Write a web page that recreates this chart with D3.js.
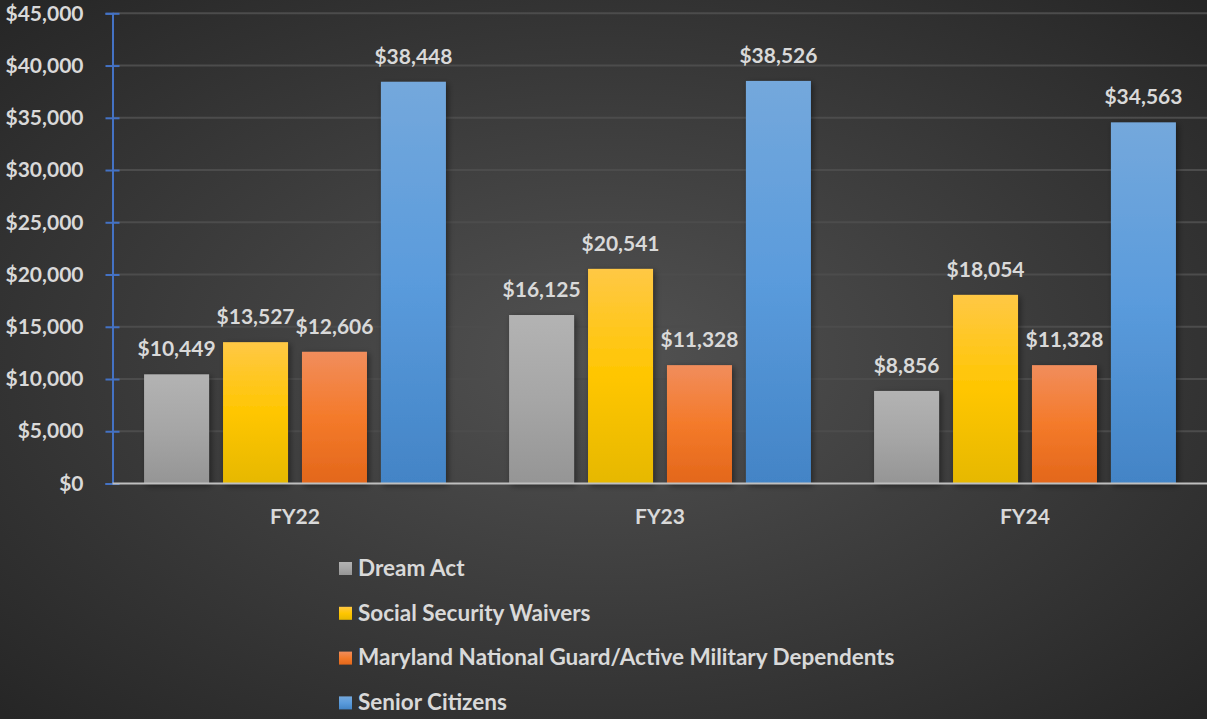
<!DOCTYPE html>
<html lang="en">
<head>
  <meta charset="UTF-8">
  <title>Waivers by Fiscal Year</title>
  <script src="https://d3js.org/d3.v7.min.js"></script>
  <style>
    html, body { margin: 0; padding: 0; background: #2b2b2b; }
    svg { display: block; font-family: Lato, "Open Sans", sans-serif; font-weight: bold; }
  </style>
</head>
<body>
  <div id="chart"></div>

  <script>
    // data
    const years = ["FY22", "FY23", "FY24"];
    const series = ["Dream Act", "Social Security Waivers", "Maryland National Guard/Active Military Dependents", "Senior Citizens"];
    const dreamAct = [10449, 16125, 8856];
    const socialSecurity = [13527, 20541, 18054];
    const nationalGuard = [12606, 11328, 11328];
    const seniors = [38448, 38526, 34563];
    const yTicks = [0, 5000, 10000, 15000, 20000, 25000, 30000, 35000, 40000, 45000];

    const values = [dreamAct, socialSecurity, nationalGuard, seniors];
    const rows = years.map((yr, i) => ({ year: yr, vals: series.map((s, j) => ({ key: s, value: values[j][i] })) }));

    const W = 1207, H = 719;
    const svg = d3.select("#chart").append("svg")
      .attr("width", W).attr("height", H);

    const defs = svg.append("defs");

    // background: soft radial glow
    const bg = defs.append("radialGradient").attr("id", "bg")
      .attr("cx", "50%").attr("cy", "50%").attr("r", "70%");
    bg.append("stop").attr("offset", "0%").attr("stop-color", "#525252");
    bg.append("stop").attr("offset", "100%").attr("stop-color", "#262626");
    svg.append("rect").attr("width", W).attr("height", H).attr("fill", "url(#bg)");

    // bar gradients (top -> bottom)
    const grads = [
      ["#b3b3b3", "#a6a6a6", "#959595"],
      ["#ffc845", "#ffc600", "#e6b800"],
      ["#f18d5c", "#f47a2a", "#e3671b"],
      ["#74a8dc", "#5a9bdc", "#4384c6"]
    ];
    grads.forEach((g, i) => {
      const lg = defs.append("linearGradient").attr("id", "g" + i)
        .attr("x1", 0).attr("y1", 0).attr("x2", 0).attr("y2", 1);
      lg.append("stop").attr("offset", "0%").attr("stop-color", g[0]);
      lg.append("stop").attr("offset", "50%").attr("stop-color", g[1]);
      lg.append("stop").attr("offset", "100%").attr("stop-color", g[2]);
    });

    const shadow = defs.append("filter").attr("id", "shadow")
      .attr("x", "-20%").attr("y", "-10%").attr("width", "150%").attr("height", "130%");
    shadow.append("feDropShadow").attr("dx", 2).attr("dy", 2).attr("stdDeviation", 3)
      .attr("flood-color", "#000").attr("flood-opacity", 0.45);

    const plotLeft = 112.5, plotRight = 1207.5, plotTop = 13.3, plotBottom = 483.5;

    const x0 = d3.scaleBand().domain(years).range([plotLeft, plotRight]).padding(0);
    const x1 = d3.scaleBand().domain(series).range([0, x0.bandwidth()])
      .paddingInner(0.177).paddingOuter(0.4);
    const y = d3.scaleLinear().domain([0, 45000]).range([plotBottom, plotTop]);
    const color = d3.scaleOrdinal().domain(series).range(series.map((s, i) => "url(#g" + i + ")"));

    // gridlines
    svg.append("g")
      .selectAll("line").data(yTicks.slice(1)).join("line")
      .attr("x1", plotLeft).attr("x2", W)
      .attr("y1", d => y(d)).attr("y2", d => y(d))
      .attr("stroke", "#4c4c4c").attr("stroke-width", 2);

    // y axis
    const yAxis = svg.append("g")
      .attr("transform", `translate(${plotLeft},0)`)
      .call(d3.axisLeft(y).tickValues(yTicks).tickSize(7).tickPadding(22)
        .tickFormat(d => "$" + d3.format(",")(d)));
    yAxis.select(".domain").attr("stroke", "#4472c4").attr("stroke-width", 2);
    yAxis.selectAll(".tick line").attr("stroke", "#4472c4").attr("stroke-width", 2).attr("x2", 7).attr("x1", -7);
    yAxis.selectAll(".tick text").attr("fill", "#d9d9d9").style("font-size", "21px")
      .style("font-family", "Lato, sans-serif").style("font-weight", "bold");

    // bars
    const groups = svg.append("g").selectAll("g").data(rows).join("g")
      .attr("transform", d => `translate(${x0(d.year)},0)`);

    groups.selectAll("rect").data(d => d.vals).join("rect")
      .attr("x", d => x1(d.key))
      .attr("width", x1.bandwidth())
      .attr("y", d => y(d.value))
      .attr("height", d => y(0) - y(d.value))
      .attr("fill", d => color(d.key))
      .attr("filter", "url(#shadow)");

    groups.selectAll("text").data(d => d.vals).join("text")
      .attr("x", d => x1(d.key) + x1.bandwidth() / 2)
      .attr("y", d => y(d.value) - 18)
      .attr("text-anchor", "middle")
      .attr("fill", "#d9d9d9")
      .style("font-size", "21px")
      .text(d => "$" + d3.format(",")(d.value));

    // x axis baseline
    svg.append("line")
      .attr("x1", plotLeft).attr("x2", W)
      .attr("y1", y(0)).attr("y2", y(0))
      .attr("stroke", "#bfbfbf").attr("stroke-width", 2);

    const xAxis = svg.append("g")
      .attr("transform", `translate(0,${y(0)})`)
      .call(d3.axisBottom(x0).tickSize(0).tickPadding(26));
    xAxis.select(".domain").remove();
    xAxis.selectAll("text").attr("fill", "#d9d9d9").style("font-size", "21px")
      .style("font-family", "Lato, sans-serif").style("font-weight", "bold");

    // legend
    const legend = svg.append("g").attr("transform", "translate(339,568)");
    const item = legend.selectAll("g").data(series).join("g")
      .attr("transform", (d, i) => `translate(0,${i * 44.8})`);
    item.append("rect")
      .attr("x", 0).attr("y", -6).attr("width", 13).attr("height", 13)
      .attr("fill", d => color(d));
    item.append("text")
      .attr("x", 19).attr("y", 0).attr("dy", "0.35em")
      .attr("fill", "#d9d9d9").style("font-size", "22.5px")
      .text(d => d);
  </script>
</body>
</html>
